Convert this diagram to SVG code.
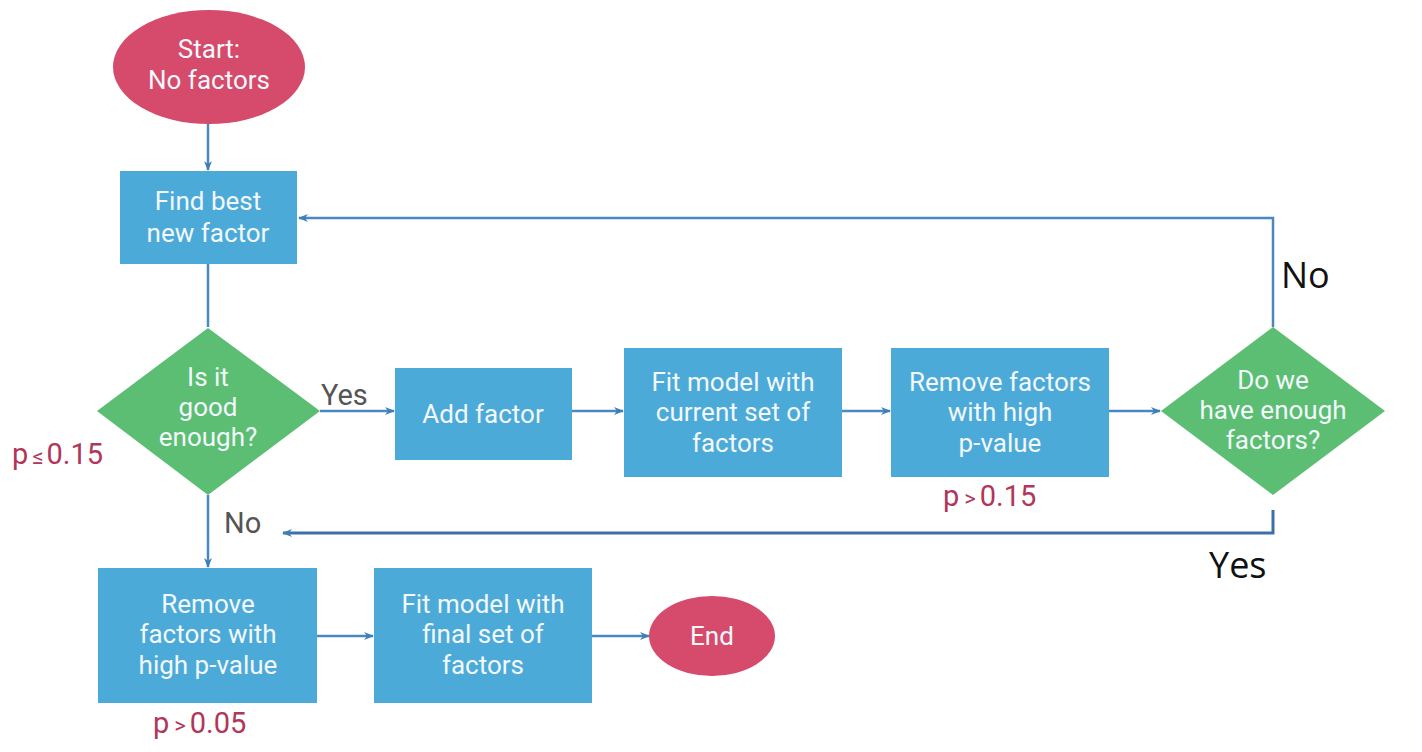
<svg xmlns="http://www.w3.org/2000/svg" width="1422" height="752" viewBox="0 0 1422 752">
<style>
.box{fill:#4caad9}
.dia{fill:#5cbe72}
.term{fill:#d64a6b}
.t{font-family:Roboto,"Liberation Sans",sans-serif;font-size:26px;fill:#f2f8fc;text-anchor:middle}
.lbl{font-family:Roboto,"Liberation Sans",sans-serif;font-size:29px;fill:#555}
.big{font-family:"Open Sans","Liberation Sans",sans-serif;font-size:36px;fill:#111}
.p{font-family:Roboto,"Liberation Sans",sans-serif;font-size:29px;fill:#b0365a}
.op{font-size:22px}
.c{fill:none;stroke:#4a88c2;stroke-width:2.5}
</style>
<defs>
<marker id="ah" markerWidth="10" markerHeight="10" refX="9" refY="5" orient="auto" markerUnits="userSpaceOnUse">
<path d="M0,1 L10,5 L0,9 L3,5 Z" fill="#3f7fb8"/>
</marker>
</defs>
<rect width="1422" height="752" fill="#ffffff"/>
<g id="connectors">
<path class="c" d="M208,124 V170" marker-end="url(#ah)"/>
<path class="c" d="M208,264 V327"/>
<path class="c" d="M320,411 H394" marker-end="url(#ah)"/>
<path class="c" d="M572,411 H623" marker-end="url(#ah)"/>
<path class="c" d="M842,411 H890" marker-end="url(#ah)"/>
<path class="c" d="M1109,411 H1160" marker-end="url(#ah)"/>
<path class="c" d="M1273,327 V218 H299" marker-end="url(#ah)"/>
<path class="c" d="M1273,510 V533 H283" marker-end="url(#ah)" style="stroke:#3d6fa8;stroke-width:3"/>
<path class="c" d="M208,495 V567" marker-end="url(#ah)"/>
<path class="c" d="M317,636 H373" marker-end="url(#ah)"/>
<path class="c" d="M592,636 H649" marker-end="url(#ah)"/>
</g>
<g id="start">
<ellipse class="term" cx="209" cy="67" rx="96" ry="57"/>
<text class="t" x="209" y="58">Start:</text>
<text class="t" x="209" y="89">No factors</text>
</g>
<g id="find">
<rect class="box" x="120" y="171" width="177" height="93"/>
<text class="t" x="208" y="210">Find best</text>
<text class="t" x="208" y="242">new factor</text>
</g>
<g id="good">
<polygon class="dia" points="208,328 320,411 208,495 97,411"/>
<text class="t" x="208" y="386">Is it</text>
<text class="t" x="208" y="416">good</text>
<text class="t" x="208" y="446">enough?</text>
</g>
<g id="add">
<rect class="box" x="395" y="368" width="177" height="92"/>
<text class="t" x="483" y="423">Add factor</text>
</g>
<g id="fitcur">
<rect class="box" x="624" y="348" width="218" height="129"/>
<text class="t" x="733" y="391">Fit model with</text>
<text class="t" x="733" y="421">current set of</text>
<text class="t" x="733" y="452">factors</text>
</g>
<g id="remove1">
<rect class="box" x="891" y="348" width="218" height="129"/>
<text class="t" x="1000" y="391">Remove factors</text>
<text class="t" x="1000" y="421">with high</text>
<text class="t" x="1000" y="452">p-value</text>
</g>
<g id="enough">
<polygon class="dia" points="1273,327 1385,411 1273,495 1161,411"/>
<text class="t" x="1273" y="389">Do we</text>
<text class="t" x="1273" y="419">have enough</text>
<text class="t" x="1273" y="449">factors?</text>
</g>
<g id="remove2">
<rect class="box" x="98" y="568" width="219" height="135"/>
<text class="t" x="208" y="613">Remove</text>
<text class="t" x="208" y="643">factors with</text>
<text class="t" x="208" y="674">high p-value</text>
</g>
<g id="fitfinal">
<rect class="box" x="374" y="568" width="218" height="135"/>
<text class="t" x="483" y="613">Fit model with</text>
<text class="t" x="483" y="643">final set of</text>
<text class="t" x="483" y="674">factors</text>
</g>
<g id="end">
<ellipse class="term" cx="712" cy="636" rx="63" ry="40"/>
<text class="t" x="712" y="645">End</text>
</g>
<g id="labels">
<text class="lbl" x="321" y="405">Yes</text>
<text class="lbl" x="224" y="533">No</text>
<text class="big" x="1281" y="288">No</text>
<text class="big" x="1209" y="578">Yes</text>
<text class="p" x="12" y="464">p<tspan class="op" dx="4">≤</tspan><tspan dx="3">0.15</tspan></text>
<text class="p" x="943" y="506">p<tspan class="op" dx="5">&gt;</tspan><tspan dx="4">0.15</tspan></text>
<text class="p" x="153" y="733">p<tspan class="op" dx="5">&gt;</tspan><tspan dx="4">0.05</tspan></text>
</g>
</svg>
